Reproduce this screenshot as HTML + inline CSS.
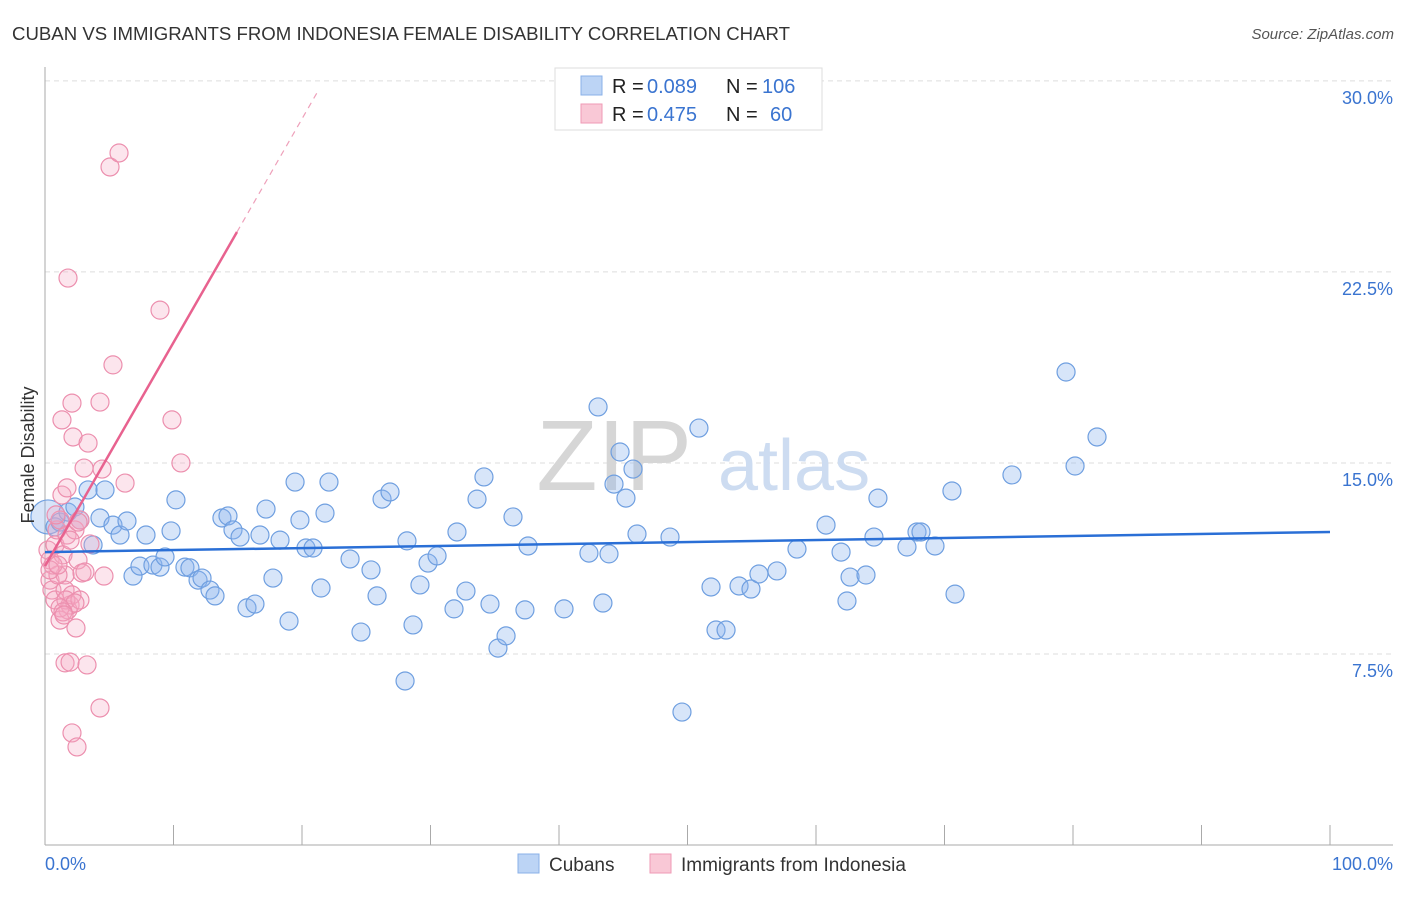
<!DOCTYPE html>
<html><head><meta charset="utf-8"><style>
body{margin:0;background:#fff;font-family:"Liberation Sans",sans-serif;}
svg text{font-family:"Liberation Sans",sans-serif;}
</style></head><body>
<svg id="c" width="1406" height="892" xmlns="http://www.w3.org/2000/svg">
<text x="12" y="40" font-size="18" fill="#333" textLength="778" lengthAdjust="spacingAndGlyphs">CUBAN VS IMMIGRANTS FROM INDONESIA FEMALE DISABILITY CORRELATION CHART</text>
<text x="1394" y="39" font-size="15" fill="#555" font-style="italic" text-anchor="end">Source: ZipAtlas.com</text>
<g id="grid"></g>
<text x="692" y="490" font-size="100" fill="#d6d6d6" text-anchor="end" font-family="Liberation Serif">ZIP</text>
<text x="718" y="490" font-size="72" fill="#cddcf1">atlas</text>
<g id="marks"></g>
<text transform="translate(34,455) rotate(-90)" font-size="18" fill="#333" text-anchor="middle">Female Disability</text>
<g>
<rect x="555" y="68" width="267" height="62" fill="#fff" stroke="#ddd"/>
<rect x="581" y="76" width="21" height="19" fill="#bcd4f5" stroke="#8ab0e8"/>
<rect x="581" y="104" width="21" height="19" fill="#f9c8d6" stroke="#ef9ab5"/>
<text x="612" y="93" font-size="20" fill="#222">R =</text>
<text x="647" y="93" font-size="20" fill="#3a74d0">0.089</text>
<text x="726" y="93" font-size="20" fill="#222">N =</text>
<text x="762" y="93" font-size="20" fill="#3a74d0">106</text>
<text x="612" y="121" font-size="20" fill="#222">R =</text>
<text x="647" y="121" font-size="20" fill="#3a74d0">0.475</text>
<text x="726" y="121" font-size="20" fill="#222">N =</text>
<text x="770" y="121" font-size="20" fill="#3a74d0">60</text>
</g>
<g>
<rect x="518" y="854" width="21" height="19" fill="#bcd4f5" stroke="#8ab0e8"/>
<text x="549" y="871" font-size="19" fill="#333">Cubans</text>
<rect x="650" y="854" width="21" height="19" fill="#f9c8d6" stroke="#ef9ab5"/>
<text x="681" y="871" font-size="19" fill="#333">Immigrants from Indonesia</text>
</g>
</svg>
<script>
const yTicks=[7.5,15,22.5,30];
const yTickLabels=["7.5%","15.0%","22.5%","30.0%"];
const xTickLabels=["0.0%","100.0%"];
const blueX=[.23,.78,1.17,1.79,2.33,2.72,3.35,3.74,4.28,4.67,5.29,5.84,6.38,6.85,7.39,7.86,8.40,8.95,9.34,9.81,10.19,10.89,11.28,11.91,12.22,12.84,13.23,13.77,14.24,14.63,15.18,15.72,16.34,16.73,17.20,17.74,18.29,18.99,19.46,19.84,20.31,20.86,21.48,21.79,22.10,23.74,24.59,25.37,25.84,26.23,26.85,28.02,28.17,28.64,29.18,29.81,30.51,31.83,32.06,32.76,33.62,34.16,34.63,35.25,35.88,36.42,37.35,37.59,40.39,42.33,43.04,43.42,43.89,44.28,44.75,45.21,45.76,46.07,48.64,49.57,50.89,51.83,52.22,53.00,54.01,54.94,55.56,56.96,58.52,60.78,61.95,62.41,62.65,63.89,64.51,64.82,67.08,67.86,68.17,69.26,70.58,70.82,75.25,79.46,80.16,81.87];
const blueY=[12.88,12.49,12.68,13.07,13.27,12.76,13.94,11.78,12.84,13.94,12.56,12.17,12.72,10.56,10.95,12.17,10.99,10.91,11.31,12.33,13.55,10.91,10.88,10.40,10.48,10.01,9.78,12.84,12.92,12.37,12.09,9.31,9.46,12.17,13.19,10.48,11.97,8.79,14.25,12.76,11.66,11.66,10.09,13.03,14.25,11.23,8.36,10.80,9.78,13.58,13.86,6.44,11.94,8.64,10.21,11.07,11.35,9.27,12.29,9.97,13.58,14.45,9.46,7.73,8.21,12.88,9.23,11.74,9.27,11.46,17.20,9.50,11.43,14.17,15.43,13.62,14.76,12.21,12.09,5.22,16.37,10.13,8.44,8.44,10.17,10.05,10.64,10.76,11.62,12.56,11.50,9.58,10.52,10.60,12.09,13.62,11.70,12.29,12.29,11.74,13.90,9.85,14.53,18.57,14.88,16.02];
const pinkX=[.23,.39,.39,.54,.78,.78,.93,1.17,1.32,1.32,1.40,1.56,1.56,1.71,1.71,1.79,1.79,1.95,2.10,2.10,2.18,2.33,2.41,2.57,2.72,2.88,3.04,3.11,3.35,3.50,4.28,4.44,4.59,5.06,5.29,5.76,6.23,8.95,9.88,10.58,1.56,1.95,3.27,2.10,2.49,4.28,1.17,1.01,.62,1.63,2.72,2.33,.39,1.17,1.40,.86,1.95,2.57,1.48,1.01];
const pinkY=[11.58,11.19,10.40,10.01,9.62,11.78,12.37,12.76,13.74,16.69,11.39,10.60,10.01,14.02,12.17,22.26,9.23,9.42,17.35,9.82,16.02,12.37,8.52,11.19,12.76,10.68,14.80,10.72,15.78,11.82,17.39,14.76,10.56,26.62,18.85,27.17,14.21,21.00,16.69,15.00,7.15,7.18,7.07,4.40,3.85,5.38,8.83,10.60,10.99,9.62,9.62,9.50,10.80,9.31,9.15,12.96,11.97,12.68,9.03,10.99];
const blueTrend=[11.5,12.29];
const pinkTrend=[10.95,0.878];
const X0=45,X1=1330,YB=845,YPX=25.47;
const sx=v=>X0+(X1-X0)*v/100, sy=v=>YB-v*YPX;
const NS="http://www.w3.org/2000/svg";
function mk(tag,at,parent){const e=document.createElementNS(NS,tag);for(const k in at)e.setAttribute(k,at[k]);parent.appendChild(e);return e;}
const grid=document.getElementById('grid'), marks=document.getElementById('marks');
yTicks.forEach((t,i)=>{
 const l=mk('line',{x1:X0,x2:1393,y1:sy(t),y2:sy(t),stroke:'#ddd','stroke-dasharray':'5,4'},grid);
 
 
 const tx=mk('text',{x:1393,y:sy(t)+23,'font-size':18,fill:'#3a74d0','text-anchor':'end'},grid);
 tx.textContent=yTickLabels[i];
 
 
});
const ax=mk('line',{x1:X0,x2:X0,y1:67,y2:YB,stroke:'#aaa'},grid);


const bx=mk('line',{x1:X0,x2:1393,y1:YB,y2:YB,stroke:'#aaa'},grid);


for(let i=0;i<=10;i++){
 const t=mk('line',{x1:sx(i*10),x2:sx(i*10),y1:825,y2:YB,stroke:'#aaa'},grid);
 
 
}
[[0,'start',X0],[100,'end',1393]].forEach((d,i)=>{
 const tx=mk('text',{x:d[2],y:870,'font-size':18,fill:'#3a74d0','text-anchor':d[1]},grid);
 tx.textContent=xTickLabels[i];
 
 
});
blueX.forEach((x,i)=>{
 const c=mk('circle',{cx:sx(x),cy:sy(blueY[i]),r:i===0?17:9,fill:'rgba(140,180,238,0.35)',stroke:'#6f9fe0','stroke-width':1.2},marks);
 
 
});
pinkX.forEach((x,i)=>{
 const c=mk('circle',{cx:sx(x),cy:sy(pinkY[i]),r:9,fill:'rgba(245,170,195,0.3)',stroke:'#ec8fae','stroke-width':1.2},marks);
 
 
});
const bl=mk('line',{x1:sx(0),y1:sy(blueTrend[0]),x2:sx(100),y2:sy(blueTrend[1]),stroke:'#2a6fd6','stroke-width':2.5},marks);


const pf=x=>pinkTrend[0]+pinkTrend[1]*x;
const pl=mk('line',{x1:sx(0),y1:sy(pf(0)),x2:sx(14.94),y2:sy(pf(14.94)),stroke:'#e8628f','stroke-width':2.5},marks);


const pd=mk('line',{x1:sx(14.94),y1:sy(pf(14.94)),x2:sx(21.2),y2:sy(pf(21.2)),stroke:'#eea0ba','stroke-width':1.2,'stroke-dasharray':'6,5'},marks);


</script>
</body></html>
